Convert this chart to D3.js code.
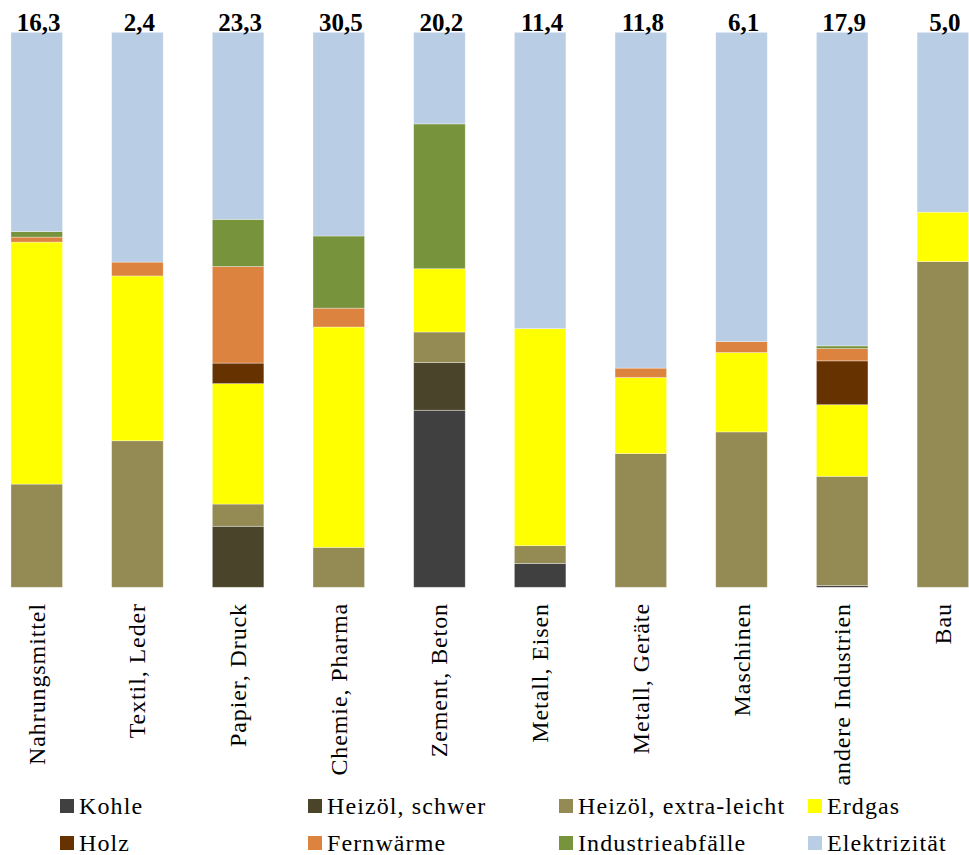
<!DOCTYPE html>
<html>
<head>
<meta charset="utf-8">
<script src="https://cdn.jsdelivr.net/npm/d3@7"></script>
<style>
  html, body { margin: 0; padding: 0; background: #fff; }
  svg { display: block; }
  text { font-family: "Liberation Serif", "DejaVu Serif", serif; fill: #000; }
</style>
</head>
<body>
<svg id="chart" width="969" height="855"></svg>
<script>
const categories = ["Nahrungsmittel", "Textil, Leder", "Papier, Druck", "Chemie, Pharma", "Zement, Beton",
  "Metall, Eisen", "Metall, Geräte", "Maschinen", "andere Industrien", "Bau"];
const totals = [16.3, 2.4, 23.3, 30.5, 20.2, 11.4, 11.8, 6.1, 17.9, 5.0];
const seriesNames = ["Kohle", "Heizöl, schwer", "Heizöl, extra-leicht", "Erdgas", "Holz", "Fernwärme", "Industrieabfälle", "Elektrizität"];
const seriesColors = ["#404040", "#4a452a", "#948a54", "#ffff00", "#663300", "#dd8340", "#77933c", "#b9cde5"];

// shares in percent, per series, in category order
const kohle        = [0, 0, 0, 0, 31.9, 4.3, 0, 0, 0.3, 0];
const heizoelS     = [0, 0, 11.0, 0, 8.6, 0, 0, 0, 0, 0];
const heizoelEL    = [18.6, 26.4, 4.0, 7.2, 5.5, 3.2, 24.1, 28.0, 19.7, 58.7];
const erdgas       = [43.6, 29.7, 21.7, 39.7, 11.4, 39.1, 13.7, 14.3, 12.9, 8.9];
const holz         = [0, 0, 3.7, 0, 0, 0, 0, 0, 7.9, 0];
const fernwaerme   = [0.9, 2.5, 17.4, 3.4, 0, 0, 1.7, 2.0, 2.2, 0];
const industrie    = [1.0, 0, 8.5, 13.0, 26.1, 0, 0, 0, 0.5, 0];
const elektrizitaet= [35.9, 41.4, 33.7, 36.7, 16.5, 53.4, 60.5, 55.7, 56.5, 32.4];

const seriesValues = [kohle, heizoelS, heizoelEL, erdgas, holz, fernwaerme, industrie, elektrizitaet];

const rows = categories.map((c, i) => {
  const r = { cat: c };
  seriesNames.forEach((s, j) => r[s] = seriesValues[j][i]);
  return r;
});

const svg = d3.select("#chart");
const x = d3.scaleBand().domain(categories).range([-13.6, 993.2]).paddingInner(0.488).paddingOuter(0.244);
const y = d3.scaleLinear().domain([0, 100]).range([587.3, 32.3]);
const color = d3.scaleOrdinal().domain(seriesNames).range(seriesColors);

const stacked = d3.stack().keys(seriesNames)(rows);

svg.append("g").selectAll("g").data(stacked).join("g")
  .attr("fill", d => color(d.key))
  .selectAll("rect").data(d => d.filter(p => p[1] - p[0] > 0)).join("rect")
  .attr("x", d => x(d.data.cat))
  .attr("width", x.bandwidth())
  .attr("y", d => y(d[1]))
  .attr("height", d => y(d[0]) - y(d[1]))
  .attr("stroke", "#ffffff")
  .attr("stroke-opacity", 0.45)
  .attr("stroke-width", 0.75);

const loc = d3.formatLocale({ decimal: ",", thousands: ".", grouping: [3], currency: ["", " €"] });
const fmt = loc.format(".1f");

svg.append("g").selectAll("text").data(categories).join("text")
  .attr("x", (d) => x(d) + x.bandwidth() / 2 + 2)
  .attr("y", 31)
  .attr("text-anchor", "middle")
  .attr("font-size", 25)
  .attr("font-weight", "bold")
  .text((d, i) => fmt(totals[i]));

svg.append("g").selectAll("text").data(categories).join("text")
  .attr("transform", d => `translate(${x(d) + x.bandwidth() / 2},603) rotate(-90)`)
  .attr("text-anchor", "end")
  .attr("dominant-baseline", "central")
  .attr("font-size", 24)
  .attr("letter-spacing", 0.9)
  .text(d => d);

const legendX = [60, 308, 559, 808];
const legendY = [806, 843];
const lg = svg.append("g").selectAll("g").data(seriesNames).join("g")
  .attr("transform", (d, i) => `translate(${legendX[i % 4]},${legendY[Math.floor(i / 4)]})`);
lg.append("rect").attr("x", 0).attr("y", -7).attr("width", 14).attr("height", 14).attr("fill", d => color(d));
lg.append("text").attr("x", 19).attr("y", 0).attr("dominant-baseline", "central")
  .attr("font-size", 24).attr("letter-spacing", 1.1).text(d => d);
</script>
</body>
</html>
